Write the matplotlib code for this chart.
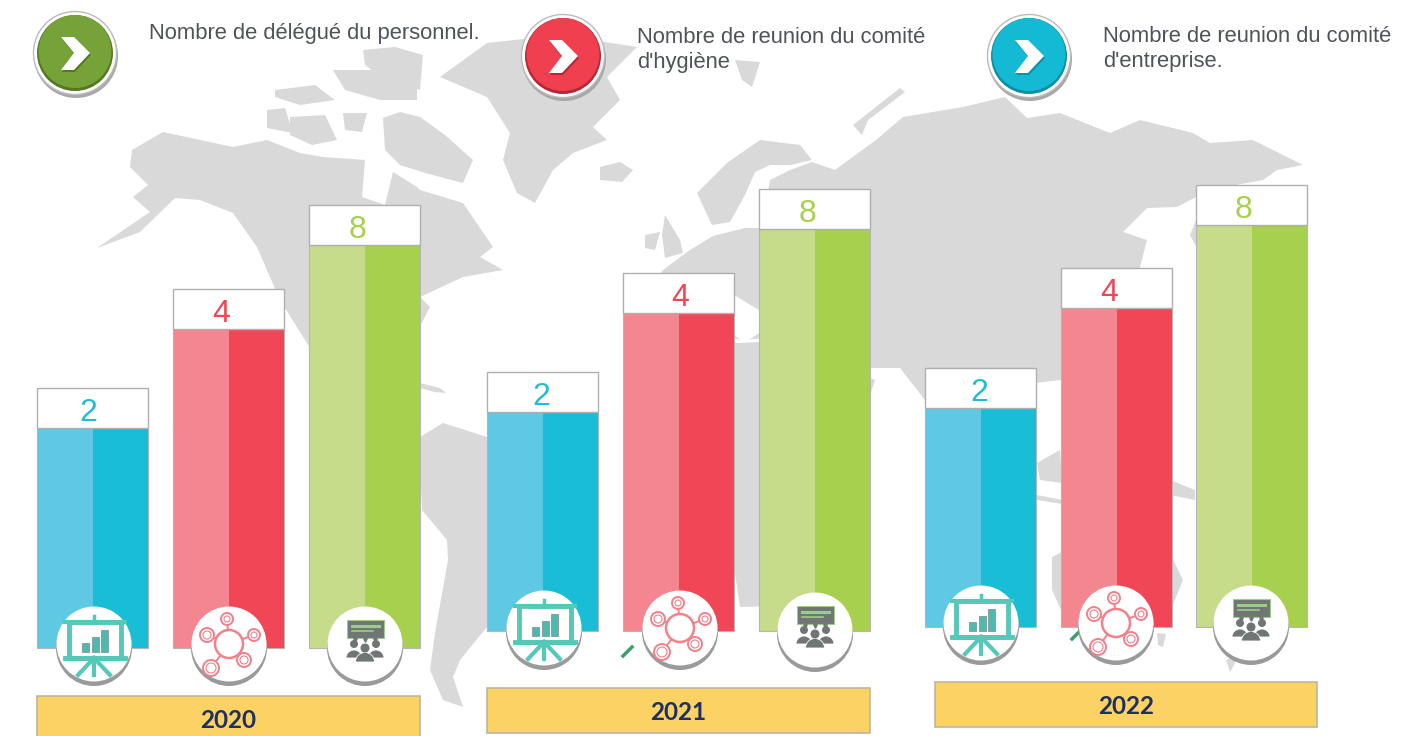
import matplotlib
matplotlib.use("Agg")
import matplotlib.pyplot as plt
from matplotlib.patches import Circle, Polygon, Rectangle, Wedge

W, H = 1423, 736
years = ["2020", "2021", "2022"]
value_labels = ["2", "4", "8"]
heights_2020 = [220, 319, 403]
heights_2021 = [219, 318, 402]
heights_2022 = [219, 319, 402]
heights = [heights_2020, heights_2021, heights_2022]
legend_texts = ["Nombre de délégué du personnel.",
                "Nombre de reunion du comité\nd'hygiène",
                "Nombre de reunion du comité\nd'entreprise."]

dark = ["#19BDD6", "#F04655", "#A6D04E"]
light = ["#5FC8E3", "#F3868E", "#C6DC8A"]
text_col = ["#22BCD6", "#F04655", "#A6D04E"]
btn_col = ["#76A23A", "#F0404F", "#14BAD3"]
btn_dark = ["#55781F", "#B92534", "#0D8EA5"]
icon_col = ["#55C8B8", "#F4808A", "#6F7674"]

bar_lefts = [[37, 173, 309], [487, 623, 759], [925, 1061, 1196]]
label_x = [[88, 221, 358], [541, 680, 808], [979, 1109, 1244]]
baselines = [648, 631, 627]
year_boxes = [(37, 420, 696, 745), (487, 870, 688, 733), (935, 1317, 682, 727)]
year_label_x = [228, 678, 1126]
icon_x = [[94, 229, 365], [544, 680, 815], [981, 1116, 1251]]
icon_y = [[644, 644, 644], [628, 628, 630], [623, 623, 623]]
btn_pos = [(75, 53), (563, 56), (1029, 56)]
legend_pos = [(149, 23), (637, 27), (1103, 26)]
mark_pos = [(628, 651), (1077, 634)]

map_land = [
 # North America
 [(132,150),(163,132),(233,147),(267,140),(300,153),(323,157),(365,160),(362,197),(385,205),(393,172),(417,187),(420,190),(463,203),
  (493,247),(480,257),(503,270),(463,277),(420,297),(430,307),(418,330),(418,375),(400,345),(360,350),(345,380),(385,415),(418,425),(418,440),(385,425),(340,395),
  (305,340),(280,300),(257,247),(233,213),(200,200),(175,198),(140,232),(97,248),(150,212),(133,197),(148,185),(130,167)],
 # Arctic islands
 [(275,90),(315,85),(335,100),(300,105),(275,97)],
 [(333,70),(375,70),(417,85),(417,100),(380,100),(345,90)],
 [(363,50),(395,47),(423,55),(420,90),(385,80),(365,65)],
 [(267,110),(285,108),(293,133),(267,128)],
 [(290,117),(325,115),(337,140),(312,145),(290,135)],
 [(343,113),(367,113),(362,132),(345,130)],
 [(420,117),(445,135),(473,160),(463,183),(425,173),(400,165),(385,150),(383,118),(400,112)],
 # Greenland
 [(440,77),(487,43),(560,35),(637,47),(607,77),(620,100),(593,127),(607,140),(573,153),(553,170),(535,203),(517,193),(503,160),(510,133),(487,97)],
 # Iceland, British Isles
 [(600,167),(620,162),(633,170),(622,182),(600,180)],
 [(665,215),(680,240),(683,253),(665,258),(662,235)],
 [(645,235),(660,232),(655,250),(645,248)],
 # South America
 [(420,437),(443,423),(487,437),(545,475),(590,505),(575,560),(550,590),(520,625),(487,627),(460,660),(453,677),(463,707),(443,700),(430,670),(435,633),(448,560),(447,540),(422,510),(420,460)],
 # Caribbean
 [(420,383),(440,388),(446,393),(434,392),(420,388)],
 # Eurasia
 [(640,345),(650,290),(663,270),(690,250),(713,236),(745,228),(762,228),(770,180),(790,170),(812,162),(835,170),(876,140),(903,117),
  (963,107),(1005,97),(1027,118),(1060,113),(1110,133),(1140,120),(1193,133),(1210,143),(1253,140),(1303,165),(1277,170),(1263,180),(1225,187),
  (1196,197),(1177,207),(1147,208),(1123,232),(1147,240),(1140,267),(1160,300),(1150,385),(1120,400),(1060,380),(1035,383),(1000,440),(960,400),
  (925,400),(900,368),(870,368),(840,345),(790,335),(745,340),(700,335),(660,345)],
 # Scandinavia
 [(697,193),(727,163),(760,140),(800,145),(812,160),(790,165),(770,165),(755,172),(745,195),(730,222),(712,225)],
 # Novaya Zemlya, Svalbard
 [(900,88),(905,92),(868,120),(862,135),(853,125)],
 [(735,60),(760,62),(752,87),(742,80)],
 # Africa
 [(650,385),(690,345),(760,342),(790,365),(830,365),(850,370),(875,380),(870,395),(860,500),(830,560),(780,606),(740,607),(733,560),(725,470),(680,470),(650,430)],
 # Kamchatka sliver
 [(1197,218),(1190,235),(1197,248)],
 # Sumatra / Borneo, Java, New Guinea
 [(1037,463),(1060,450),(1062,483),(1040,480)],
 [(1037,495),(1062,500),(1062,504),(1037,500)],
 [(1170,480),(1195,490),(1195,500),(1170,495)],
 # Australia, Tasmania, New Zealand
 [(1052,557),(1062,552),(1172,557),(1183,580),(1170,612),(1062,612),(1052,590)],
 [(1157,633),(1166,634),(1163,647),(1158,645)],
 [(1226,660),(1240,654),(1230,672)],
]
map_water = [
 # Mediterranean
 [(734,295),(759,310),(759,333),(745,343),(734,335)],
]

fig = plt.figure(figsize=(W / 100, H / 100), dpi=100, facecolor="white")
ax = fig.add_axes([0, 0, 1, 1])
ax.set_xlim(0, W)
ax.set_ylim(H, 0)
ax.axis("off")

for reg in map_land:
    ax.add_patch(Polygon(reg, closed=True, fc="#D9D9D9", ec="none", zorder=1))
for reg in map_water:
    ax.add_patch(Polygon(reg, closed=True, fc="white", ec="none", zorder=1.5))


def icon_board(cx, cy, c):
    ax.add_patch(Rectangle((cx - 25, cy - 22), 52, 36, fc="white", ec=c, lw=3.5, zorder=6))
    ax.plot([cx - 29, cx + 31], [cy - 22, cy - 22], color=c, lw=3, zorder=6)
    ax.plot([cx - 29, cx + 31], [cy + 14, cy + 14], color=c, lw=3.5, zorder=6)
    ax.plot([cx, cx], [cy - 28, cy - 22], color=c, lw=2.5, zorder=6)
    for dx, hh in [(-9, 9), (1, 15), (10, 22)]:
        ax.add_patch(Rectangle((cx + dx - 3, cy + 8 - hh), 6.5, hh, fc="#4FB9B0", ec="#7F9A96", lw=0.6, zorder=7))
    for x2 in (-16, 0, 16):
        ax.plot([cx, cx + x2], [cy + 14, cy + 31], color=c, lw=3, zorder=6)


def icon_net(cx, cy, c):
    sats = [(-22, -9, 7), (-2, -25, 6), (25, -9, 6), (15, 16, 7), (-18, 24, 8)]
    for dx, dy, r in sats:
        ax.plot([cx, cx + dx], [cy, cy + dy], color=c, lw=1.4, zorder=6)
    ax.add_patch(Circle((cx, cy), 14, fc="white", ec=c, lw=1.8, zorder=7))
    for dx, dy, r in sats:
        ax.add_patch(Circle((cx + dx, cy + dy), r, fc="white", ec=c, lw=1.4, zorder=7))
        ax.add_patch(Circle((cx + dx, cy + dy), r - 3, fc="none", ec=c, lw=0.8, zorder=8))


def icon_people(cx, cy, c):
    ax.add_patch(Rectangle((cx - 18, cy - 24), 37, 18, fc=c, ec="#9CCB8A", lw=0.8, zorder=6))
    ax.plot([cx - 13, cx + 14], [cy - 18, cy - 18], color="#9CCB8A", lw=2.2, zorder=7)
    ax.plot([cx - 13, cx + 8], [cy - 13, cy - 13], color="#9CCB8A", lw=1.2, zorder=7)
    for dx in (-10, 0, 10):
        ax.plot([cx + dx], [cy - 4], marker="v", ms=2.5, color=c, zorder=7)
    for dx, dy, hr, br in [(-11, 0, 4, 8), (11, 0, 4, 8), (0, 4, 4.5, 9.5)]:
        ax.add_patch(Wedge((cx + dx, cy + dy + 14), br, 180, 360, fc=c, ec="white", lw=0.6, zorder=7))
        ax.add_patch(Circle((cx + dx, cy + dy), hr, fc=c, ec="none", zorder=8))


icon_funcs = [icon_board, icon_net, icon_people]

for g, year in enumerate(years):
    base = baselines[g]
    for i, label in enumerate(value_labels):
        x0 = bar_lefts[g][i]
        h = heights[g][i]
        top = base - h
        ax.add_patch(Rectangle((x0, top), 55.5, h, fc=light[i], ec="none", zorder=3))
        ax.add_patch(Rectangle((x0 + 55.5, top), 55.5, h, fc=dark[i], ec="none", zorder=3))
        ax.add_patch(Rectangle((x0, top), 111, h, fc="none", ec="#B5B5B5", lw=0.8, zorder=3))
        ax.add_patch(Rectangle((x0, top - 40), 111, 40, fc="white", ec="#AFAFAF", lw=1, zorder=3))
        ax.text(label_x[g][i], top - 15, label, color=text_col[i], fontsize=23,
                family="Liberation Sans", ha="center", va="center", zorder=4)
        cx, cy = icon_x[g][i], icon_y[g][i]
        ax.add_patch(Circle((cx, cy + 4), 38, fc="#9A9A9A", ec="none", zorder=4))
        ax.add_patch(Circle((cx, cy), 37.5, fc="white", ec="none", zorder=5))
        icon_funcs[i](cx, cy, icon_col[i])
    xa, xb, ya, yb = year_boxes[g]
    ax.add_patch(Rectangle((xa, ya), xb - xa, yb - ya, fc="#FCD265", ec="#BDB79F", lw=1.2, zorder=3))
    ax.text(year_label_x[g], ya + 25, year, color="#1F2F5F", fontsize=17.5,
            family="Lato", fontweight="bold", ha="center", va="center", zorder=4)

for mx, my in mark_pos:
    ax.plot([mx - 5, mx + 4], [my + 5, my - 4], color="#3E9E6E", lw=2.5, zorder=2)

for (bx, by), c, cd, txt, (tx, ty) in zip(btn_pos, btn_col, btn_dark, legend_texts, legend_pos):
    ax.add_patch(Circle((bx + 1, by + 3), 42, fc="#A8A8A8", ec="none", zorder=6))
    ax.add_patch(Circle((bx, by), 41.5, fc="white", ec="#BBBBBB", lw=1, zorder=7))
    ax.add_patch(Circle((bx, by), 38, fc=cd, ec="none", zorder=8))
    ax.add_patch(Circle((bx, by - 1.5), 36.5, fc=c, ec="none", zorder=8.5))
    chev = [(-14, -16), (-1, -16), (15, 0), (-1, 17), (-14, 17), (-1, 0)]
    ax.add_patch(Polygon([(bx + a + 1, by + b + 2) for a, b in chev], closed=True, fc=cd, ec="none", zorder=9))
    ax.add_patch(Polygon([(bx + a, by + b) for a, b in chev], closed=True, fc="white", ec="none", zorder=9.5))
    ax.text(tx, ty, txt, color="#4F5359", fontsize=15.85, family="Liberation Sans",
            ha="left", va="top", linespacing=1.27, zorder=9.5)

fig.savefig("out.png", dpi=100, facecolor="white")
